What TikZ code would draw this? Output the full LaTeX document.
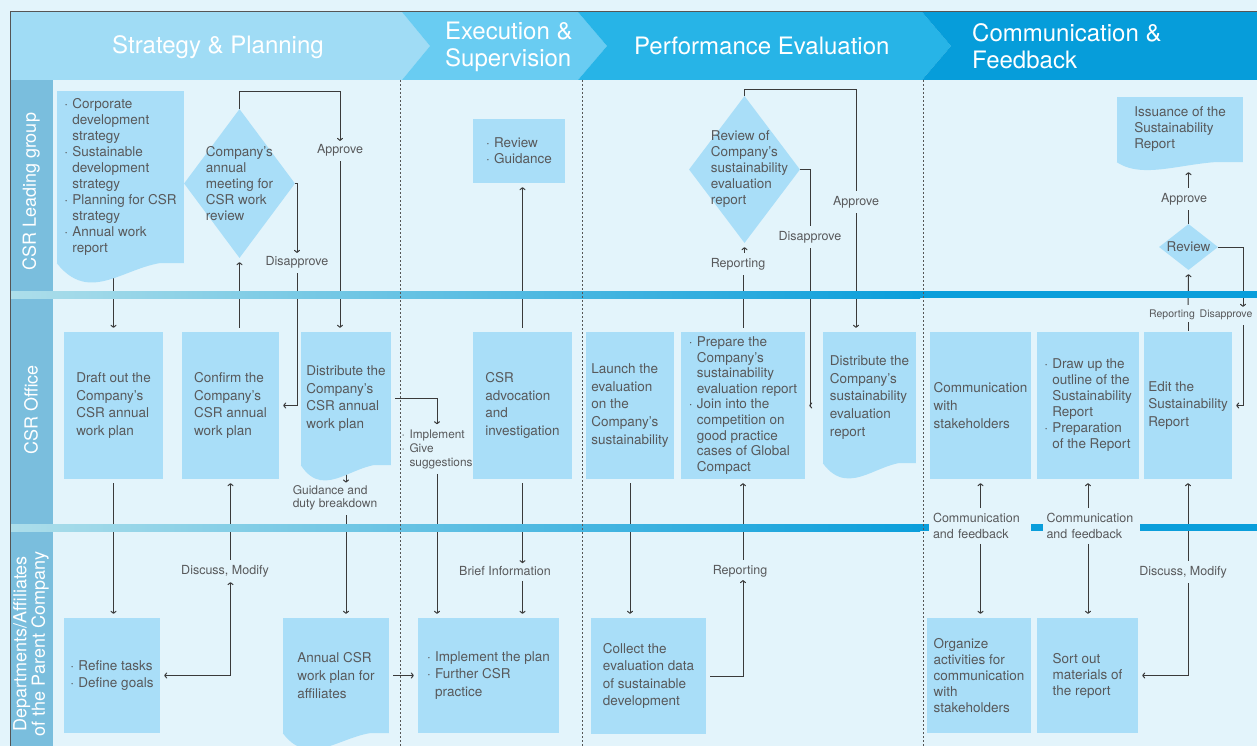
\documentclass[tikz,border=0pt]{standalone}
\usepackage{fontspec}
\setmainfont{TeX Gyre Heros}
\usepackage{tikz}
\usetikzlibrary{shapes.geometric,arrows.meta,calc}

\definecolor{bgc}{HTML}{E3F4FB}
\definecolor{boxc}{HTML}{A9DEF8}
\definecolor{txtc}{HTML}{58595B}
\definecolor{linec}{HTML}{3A3A3A}
\definecolor{lanec}{HTML}{7ABEDD}
\definecolor{hone}{HTML}{A0DCF5}
\definecolor{htwo}{HTML}{69CCF2}
\definecolor{hthree}{HTML}{27B4E7}
\definecolor{hfour}{HTML}{069DDA}
\definecolor{barl}{HTML}{ADDEEA}
\definecolor{barr}{HTML}{0A9EDB}
\definecolor{framec}{HTML}{555555}

\pgfdeclarelayer{back}
\pgfdeclarelayer{lines}
\pgfsetlayers{back,lines,main}

\newcommand{\bul}{\makebox[8pt][l]{·}}
\newcommand{\ind}{\hspace*{8pt}}

\tikzset{
  pbox/.style={fill=boxc, text=txtc, align=left, inner sep=0pt, font=\fontsize{13.5}{17.6}\selectfont},
  plist/.style={pbox, font=\fontsize{13.5}{16}\selectfont},
  dia/.style={diamond, fill=boxc, inner sep=0pt},
  dtext/.style={text=txtc, align=left, inner sep=0pt, font=\fontsize{13.5}{16}\selectfont},
  lbl/.style={text=txtc, align=left, inner sep=1pt, font=\fontsize{12.5}{14}\selectfont},
  small/.style={lbl, font=\fontsize{10.5}{12}\selectfont},
  arr/.style={draw=linec, line width=1pt, -{To[length=3pt,width=6pt]}, shorten >=4pt, shorten <=4pt},
  ln/.style={arr, -},
  dbl/.style={arr, {To[length=3pt,width=6pt]}-{To[length=3pt,width=6pt]}},
  hdr/.style={text=white, align=left, inner sep=0pt, font=\fontsize{24}{27}\selectfont},
  lane/.style={text=white, rotate=90, align=center, inner sep=0pt, font=\fontsize{18}{18.5}\selectfont},
  sep/.style={draw=framec, line width=1pt, dash pattern=on 2pt off 2pt}
}

\begin{document}
\begin{tikzpicture}[x=1pt, y=-1pt]
  \useasboundingbox (0,0) rectangle (1257,746);

  \begin{pgfonlayer}{back}
    \fill[bgc] (0,0) rectangle (1257,746);
    \fill[hone] (10,12) -- (402,12) -- (430,46) -- (402,80) -- (10,80) -- cycle;
    \fill[htwo] (402,12) -- (578,12) -- (607,46) -- (578,80) -- (402,80) -- (430,46) -- cycle;
    \fill[hthree] (578,12) -- (922,12) -- (951,46) -- (922,80) -- (578,80) -- (607,46) -- cycle;
    \fill[hfour] (922,12) -- (1257,12) -- (1257,80) -- (922,80) -- (951,46) -- cycle;
    \fill[lanec] (10,80) rectangle (53,746);
  \end{pgfonlayer}

  % phases
  \node[hdr] (ph1) at (218,47) {Strategy \& Planning};
  \node[hdr, anchor=west] (ph2) at (445,46.5) {Execution \&\\Supervision};
  \node[hdr, anchor=west] (ph3) at (634,46) {Performance Evaluation};
  \node[hdr, anchor=west] (ph4) at (972,46.5) {Communication \&\\Feedback};

  % lanes
  \node[lane] (l1) at (31,192) {CSR Leading group};
  \node[lane] (l2) at (31,410) {CSR Office};
  \node[lane] (l3) at (31,644) {Departments/Affiliates\\of the Parent Company};

  \shade[left color=barl, right color=barr] (10,291) rectangle (920,298);
  \fill[barr] (920,291) rectangle (1257,298);
  \shade[left color=barl, right color=barr] (10,524) rectangle (920,531);
  \fill[barr] (920,524) rectangle (1257,531);

  \draw[sep] (400,80) -- (400,746);
  \draw[sep] (582,80) -- (582,746);
  \draw[sep] (923,80) -- (923,746);

  % CSR Leading group
  \node[plist, minimum width=127pt, minimum height=172pt] (corp) at (120.5,177) {\bul Corporate\\\ind development\\\ind strategy\\\bul Sustainable\\\ind development\\\ind strategy\\\bul Planning for CSR\\\ind strategy\\\bul Annual work\\\ind report};
  \fill[boxc] (corp.south west) .. controls +(38,48) and +(-50,-10) .. (corp.south east) -- cycle;
  \node[dia, minimum width=111pt, minimum height=149pt, label={[dtext]center:Company's\\annual\\meeting for\\CSR work\\review}] (meet) at (239.5,183.5) {};
  \node[plist, minimum width=92pt, minimum height=64pt] (guide) at (519,151) {\bul Review\\\bul Guidance};
  \node[dia, minimum width=111pt, minimum height=147pt, label={[dtext, xshift=5pt]center:Review of\\Company's\\sustainability\\evaluation\\report}] (revrep) at (744.5,169.5) {};
  \node[plist, minimum width=126pt, minimum height=65pt] (issue) at (1180,129.5) {Issuance of the\\Sustainability\\Report};
  \fill[boxc] (issue.south west) .. controls +(30,20) and +(-50,-5) .. (issue.south east) -- cycle;
  \node[dia, minimum width=59pt, minimum height=46pt, label={[dtext]center:Review}] (revsum) at (1188.5,247) {};

  % CSR Office
  \node[pbox, minimum width=99pt, minimum height=147pt] (draft) at (113.5,405.5) {Draft out the\\Company's\\CSR annual\\work plan};
  \node[pbox, minimum width=97pt, minimum height=147pt] (confirm) at (230.5,405.5) {Confirm the\\Company's\\CSR annual\\work plan};
  \node[pbox, minimum width=90pt, minimum height=133pt] (distplan) at (346,398.5) {Distribute the\\Company's\\CSR annual\\work plan};
  \fill[boxc] (distplan.south west) .. controls +(25,38) and +(-35,-8) .. (distplan.south east) -- cycle;
  \node[pbox, minimum width=99pt, minimum height=147pt] (advoc) at (522.5,405.5) {CSR\\advocation\\and\\investigation};
  \node[pbox, minimum width=88pt, minimum height=147pt] (launch) at (630,405.5) {Launch the\\evaluation\\on the\\Company's\\sustainability};
  \node[pbox, font=\fontsize{13.5}{15.6}\selectfont, minimum width=124pt, minimum height=147pt] (prep) at (743,405.5) {\bul Prepare the\\\ind Company's\\\ind sustainability\\\ind evaluation report\\\bul Join into the\\\ind competition on\\\ind good practice\\\ind cases of Global\\\ind Compact};
  \node[pbox, minimum width=93pt, minimum height=131pt] (distrep) at (869.5,397.5) {Distribute the\\Company's\\sustainability\\evaluation\\report};
  \fill[boxc] (distrep.south west) .. controls +(28,38) and +(-35,-8) .. (distrep.south east) -- cycle;
  \node[pbox, minimum width=101pt, minimum height=147pt] (comm) at (980.5,405.5) {Communication\\with\\stakeholders};
  \node[plist, minimum width=102pt, minimum height=147pt] (outline) at (1088,405.5) {\bul Draw up the\\\ind outline of the\\\ind Sustainability\\\ind Report\\\bul Preparation\\\ind of the Report};
  \node[pbox, minimum width=88pt, minimum height=147pt] (edit) at (1188,405.5) {Edit the\\Sustainability\\Report};

  % Departments/Affiliates
  \node[pbox, minimum width=96pt, minimum height=115pt] (refine) at (112,675.5) {\bul Refine tasks\\\bul Define goals};
  \node[pbox, minimum width=106pt, minimum height=115pt] (affil) at (336,675.5) {Annual CSR\\work plan for\\affiliates};
  \fill[boxc] (affil.south west) .. controls +(30,40) and +(-40,-8) .. (affil.south east) -- cycle;
  \node[pbox, minimum width=141pt, minimum height=115pt] (impl) at (488.5,675.5) {\bul Implement the plan\\\bul Further CSR\\\ind practice};
  \node[pbox, minimum width=115pt, minimum height=116pt] (collect) at (648.5,676) {Collect the\\evaluation data\\of sustainable\\development};
  \node[plist, minimum width=104pt, minimum height=115pt] (organize) at (979,675.5) {Organize\\activities for\\communication\\with\\stakeholders};
  \node[plist, minimum width=101pt, minimum height=115pt] (sortout) at (1087.5,675.5) {Sort out\\materials of\\the report};

  % labels on the connectors
  \node[lbl] (ok1) at (340,150) {Approve};
  \node[lbl] (no1) at (297,262) {Disapprove};
  \node[lbl, font=\fontsize{11.8}{14}\selectfont] (impgive) at (437,449) {\bul Implement\\\bul Give\\\ind suggestions};
  \node[lbl, font=\fontsize{12}{13}\selectfont] (guid) at (335,498) {Guidance and\\duty breakdown};
  \node[lbl] (disc1) at (225,571) {Discuss, Modify};
  \node[lbl] (brief) at (505,571) {Brief Information};
  \node[lbl] (ok2) at (856,202) {Approve};
  \node[lbl] (no2) at (810,237) {Disapprove};
  \node[lbl] (rep1) at (738,264) {Reporting};
  \node[lbl] (rep2) at (740,571) {Reporting};
  \node[lbl] (ok3) at (1184,199) {Approve};
  \node[small] (rep3) at (1172,315) {Reporting};
  \node[small] (no3) at (1226,315) {Disapprove};
  \node[lbl, fill=bgc, text width=94pt, inner xsep=4pt, font=\fontsize{12.5}{16}\selectfont] (fb1) at (980,526) {Communication\\and feedback};
  \node[lbl, fill=bgc, text width=90pt, inner xsep=3.5pt, font=\fontsize{12.5}{16}\selectfont] (fb2) at (1091.5,526) {Communication\\and feedback};
  \node[lbl] (disc2) at (1183,572) {Discuss, Modify};
  \coordinate (rt) at (1243,0);

  \begin{pgfonlayer}{lines}
    \draw[arr] (draft.north |- corp.south) -- (draft.north);
    \draw[arr, shorten <=0pt, shorten >=2pt] (meet.north) -- ++(0,-17) -| (ok1.north);
    \draw[arr] (ok1.south) -- (ok1.south |- distplan.north);
    \draw[arr, shorten <=0pt, shorten >=2pt] (meet.east) -| (no1.north);
    \draw[arr] (no1.south) |- (confirm.east);
    \draw[arr] (confirm.north -| meet.south) -- (meet.south);
    \draw[arr] (distplan.east) -| (impgive.north);
    \draw[arr] (impgive.south) -- (impgive.south |- impl.north);
    \draw[arr, shorten >=2pt] (distplan.south) -- (distplan.south |- guid.north);
    \draw[arr] (distplan.south |- guid.south) -- (distplan.south |- affil.north);
    \draw[arr] (draft.south) -- (draft.south |- refine.north);
    \draw[dbl] (refine.east) -| (confirm.south |- disc1.south);
    \draw[arr] (confirm.south |- disc1.north) -- (confirm.south);
    \draw[arr] (affil.east) -- (impl.west);
    \draw[arr] (advoc.north) -- (advoc.north |- guide.south);
    \draw[arr, shorten >=2pt] (advoc.south) -- (advoc.south |- brief.north);
    \draw[arr] (advoc.south |- brief.south) -- (advoc.south |- impl.north);
    \draw[arr] (launch.south) -- (launch.south |- collect.north);
    \draw[arr, shorten >=2pt] (collect.east) -| (prep.south |- rep2.south);
    \draw[arr] (prep.south |- rep2.north) -- (prep.south);
    \draw[ln] (prep.north) -- (prep.north |- rep1.south);
    \draw[arr] (revrep.south |- rep1.north) -- (revrep.south);
    \draw[ln, shorten <=0pt] (revrep.north) -- ++(0,-6) -| (ok2.north);
    \draw[arr] (ok2.south) -- (ok2.south |- distrep.north);
    \draw[ln, shorten <=0pt] (revrep.east) -| (no2.north);
    \draw[arr] (no2.south) |- (prep.east);
    \draw[ln, shorten <=0pt] (revsum.north) -- (revsum.north |- ok3.south);
    \draw[arr, shorten >=10pt] (revsum.north |- ok3.north) -- (revsum.north |- issue.south);
    \draw[arr, shorten <=0pt, shorten >=2pt] (revsum.east) -| (rt |- no3.north);
    \draw[arr] (rt |- no3.south) |- (edit.east);
    \draw[ln, shorten <=1pt, shorten >=1pt] (edit.north) -- (edit.north |- rep3.south);
    \draw[arr] (edit.north |- rep3.north) -- (revsum.south);
    \draw[arr] (comm.south |- fb1.north) -- (comm.south);
    \draw[arr] (comm.south |- fb1.south) -- (comm.south |- organize.north);
    \draw[arr] (outline.south |- fb2.north) -- (outline.south);
    \draw[arr] (outline.south |- fb2.south) -- (outline.south |- sortout.north);
    \draw[arr] (edit.south |- disc2.north) -- (edit.south);
    \draw[arr] (edit.south |- disc2.south) |- (sortout.east);
  \end{pgfonlayer}

  \draw[framec, line width=1pt] (10,746) -- (10,12) -- (1257,12);
\end{tikzpicture}
\end{document}
